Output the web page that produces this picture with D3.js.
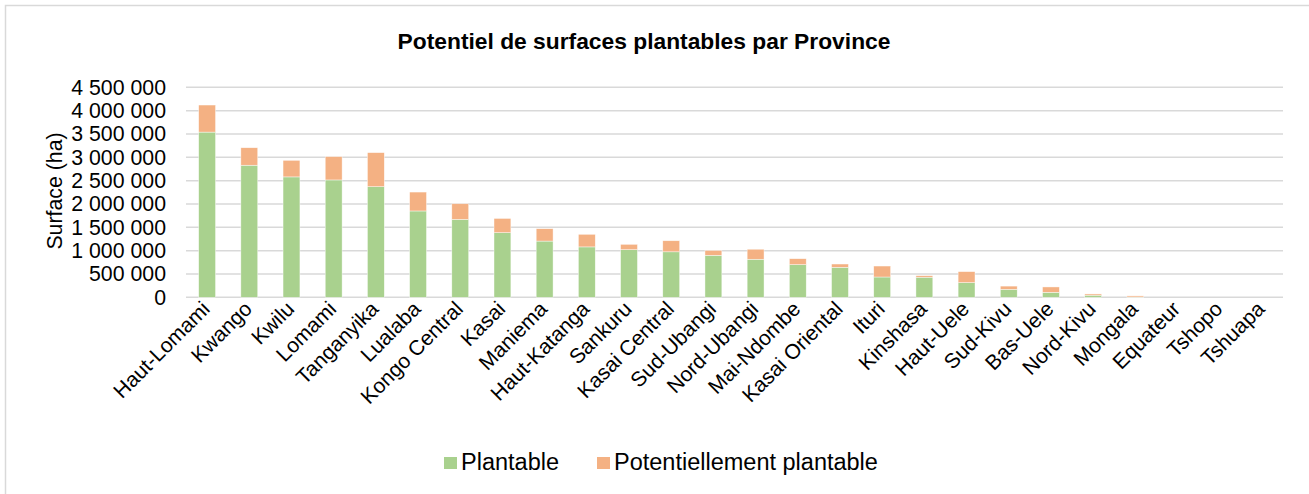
<html>
<head>
  <meta charset="utf-8">
  <title>Potentiel de surfaces plantables</title>
  <script src="https://d3js.org/d3.v7.min.js"></script>
  <style>
    html, body { margin:0; padding:0; background:white; overflow:hidden }
    text { font-family: Arial, "Liberation Sans", sans-serif; fill:#000 }
  </style>
</head>
<body>
  <div id="chart"></div>
  <script>

  // provinces, sorted as in the original chart
  var provinces = ["Haut-Lomami","Kwango","Kwilu","Lomami","Tanganyika","Lualaba","Kongo Central",
    "Kasai","Maniema","Haut-Katanga","Sankuru","Kasai Central","Sud-Ubangi","Nord-Ubangi",
    "Mai-Ndombe","Kasai Oriental","Ituri","Kinshasa","Haut-Uele","Sud-Kivu","Bas-Uele",
    "Nord-Kivu","Mongala","Equateur","Tshopo","Tshuapa"];

  // surfaces in ha
  var plantable = [3540000,2830000,2580000,2515000,2370000,1850000,1670000,
    1385000,1205000,1080000,1020000,975000,900000,815000,
    700000,643000,435000,430000,315000,170000,107000,
    45000,5000,0,0,0];
  var potentiel = [580000,375000,355000,500000,730000,405000,335000,
    305000,265000,270000,115000,237000,105000,215000,
    127000,70000,235000,33000,235000,70000,115000,
    27000,25000,0,0,0];

  var yTicks = [0,500000,1000000,1500000,2000000,2500000,3000000,3500000,4000000,4500000];

  var seriesNames = ["Plantable","Potentiellement plantable"];
  var colors = ["#A9D18E","#F4B183"];

  var W = 1309, H = 494;
  var svg = d3.select("#chart").append("svg").attr("width", W).attr("height", H);

  // chart area border
  svg.append("rect").attr("x",5.5).attr("y",5.5).attr("width",W+10).attr("height",H+10)
    .attr("fill","white").attr("stroke","#D9D9D9").attr("stroke-width",1.5);

  var x = d3.scaleBand().domain(provinces).range([186,1283]).paddingInner(0.6).paddingOuter(0.3);
  var y = d3.scaleLinear().domain([0,4500000]).range([297.3,87.3]);

  var loc = d3.formatLocale({decimal:",", thousands:"\u00a0", grouping:[3], currency:["","€"]});
  var fmt = loc.format(",");

  // gridlines
  svg.append("g").selectAll("line").data(yTicks).join("line")
    .attr("x1",186).attr("x2",1283)
    .attr("y1",function(d){ return y(d); }).attr("y2",function(d){ return y(d); })
    .attr("stroke","#D9D9D9").attr("stroke-width",1.5);

  // y axis labels
  var yAxis = d3.axisLeft(y).tickValues(yTicks).tickFormat(fmt).tickSize(0).tickPadding(0);
  var gy = svg.append("g").attr("transform","translate(166,0)").call(yAxis);
  gy.select(".domain").remove();
  gy.selectAll("text").style("font-size","21.3px").style("font-family","Arial, 'Liberation Sans', sans-serif").attr("fill","#000");

  // stacked bars
  var rows = provinces.map(function(p,i){ return {name:p, plantable:plantable[i], potentiel:potentiel[i]}; });
  var stack = d3.stack().keys(["plantable","potentiel"])(rows);

  svg.append("g").selectAll("g").data(stack).join("g")
    .attr("fill",function(d,i){ return colors[i]; })
    .selectAll("rect").data(function(d){ return d; }).join("rect")
      .attr("x",function(d){ return x(d.data.name); })
      .attr("width",x.bandwidth())
      .attr("y",function(d){ return y(d[1]); })
      .attr("height",function(d){ return Math.max(0, y(d[0]) - y(d[1])); })
      .attr("stroke","#fff").attr("stroke-width",0.6).attr("stroke-opacity",0.7);

  // category labels
  var xAxis = d3.axisBottom(x).tickSize(0).tickPadding(0);
  var gx = svg.append("g").attr("transform","translate(0,297.3)").call(xAxis);
  gx.select(".domain").remove();
  gx.selectAll("text")
    .style("font-size","21px").style("font-family","Arial, 'Liberation Sans', sans-serif").attr("fill","#000")
    .attr("text-anchor","end").attr("dy",null).attr("y",0)
    .attr("transform","translate(4,13) rotate(-45)");

  // title
  svg.append("text").attr("x",644).attr("y",48.5).attr("text-anchor","middle")
    .style("font-size","22.8px").style("font-weight","bold")
    .text("Potentiel de surfaces plantables par Province");

  // y axis title
  svg.append("text").attr("transform","translate(62,191) rotate(-90)").attr("text-anchor","middle")
    .style("font-size","21.3px").text("Surface (ha)");

  // legend
  var legX = [444,597];
  var leg = svg.append("g").selectAll("g").data(seriesNames).join("g")
    .attr("transform",function(d,i){ return "translate(" + legX[i] + ",456)"; });
  leg.append("rect").attr("width",13).attr("height",12).attr("y",1).attr("fill",function(d,i){ return colors[i]; });
  leg.append("text").attr("x",17).attr("y",13.5).style("font-size","23.5px").text(function(d){ return d; });

  </script>
</body>
</html>
